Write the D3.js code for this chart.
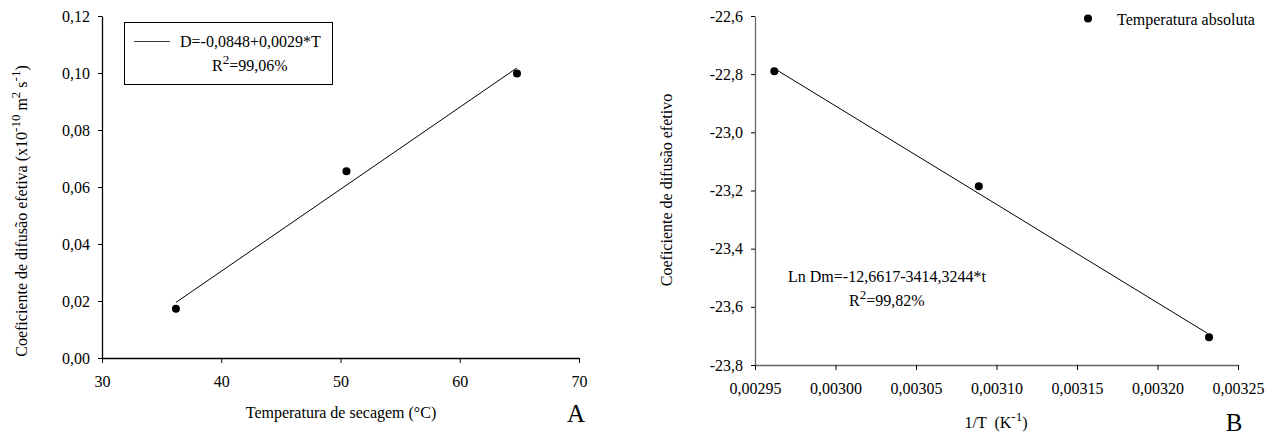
<!DOCTYPE html>
<html>
<head>
<meta charset="utf-8">
<script src="https://cdn.jsdelivr.net/npm/d3@7"></script>
<style>
  body { margin: 0; background: #fff; }
  svg text { font-family: "Liberation Serif", "Times New Roman", serif; fill: #000; }
</style>
</head>
<body>
<div id="chart"></div>
<script>
// Panel A data: drying temperature (°C) vs effective diffusion coefficient
var tempA = [36.2, 50.5, 64.8];
var difA = [0.0173, 0.0655, 0.0998];
var fitAx = [36.2, 64.8];          // ends of the fitted line
var fitAy = [0.0195, 0.1018];
var ticksAx = [30, 40, 50, 60, 70];
var ticksAy = [0.00, 0.02, 0.04, 0.06, 0.08, 0.10, 0.12];

// Panel B data: 1/T vs ln of diffusion coefficient
var invT = [0.002962, 0.003089, 0.003232];
var lnD = [-22.790, -23.185, -23.705];
var fitBx = [0.002963, 0.003231];
var fitBy = [-22.784, -23.691];
var ticksBx = [0.00295, 0.00300, 0.00305, 0.00310, 0.00315, 0.00320, 0.00325];
var ticksBy = [-23.8, -23.6, -23.4, -23.2, -23.0, -22.8, -22.6];

var width = 1272, height = 436;
var serif = '"Liberation Serif", "Times New Roman", serif';

// comma decimal and plain hyphen for minus
var pt = d3.formatLocale({decimal: ",", thousands: ".", grouping: [3], currency: ["", ""], minus: "-"});

var svg = d3.select("#chart").append("svg")
    .attr("width", width)
    .attr("height", height)
    .attr("font-family", serif);

function panel(o) {
  var x = d3.scaleLinear().domain(o.xDomain).range([o.left, o.right]);
  var y = d3.scaleLinear().domain(o.yDomain).range([o.bottom, o.top]);

  var xAxis = svg.append("g")
      .attr("transform", "translate(0," + o.bottom + ")")
      .call(d3.axisBottom(x).tickValues(o.xTicks).tickFormat(pt.format(o.xFmt))
        .tickSize(5).tickSizeOuter(0).tickPadding(13));
  var yAxis = svg.append("g")
      .attr("transform", "translate(" + o.left + ",0)")
      .call(d3.axisLeft(y).tickValues(o.yTicks).tickFormat(pt.format(o.yFmt))
        .tickSize(4).tickSizeOuter(0).tickPadding(8));

  [xAxis, yAxis].forEach(function(a) {
    a.attr("font-family", serif).attr("font-size", 16);
    a.selectAll("text").style("font-family", serif).style("font-size", "16px").attr("fill", "#000");
    a.select(".domain").attr("stroke", o.axisColor).attr("stroke-width", 1.3);
    a.selectAll(".tick line").attr("stroke", "#000");
  });

  // fitted line
  svg.append("line")
      .attr("x1", x(o.fitX[0])).attr("y1", y(o.fitY[0]))
      .attr("x2", x(o.fitX[1])).attr("y2", y(o.fitY[1]))
      .attr("stroke", "#000").attr("stroke-width", 1);

  // observed points
  svg.selectAll(null)
      .data(o.xs)
      .enter().append("circle")
      .attr("cx", function(d) { return x(d); })
      .attr("cy", function(d, i) { return y(o.ys[i]); })
      .attr("r", 4)
      .attr("fill", "#000");

  return {x: x, y: y};
}

var A = panel({
  left: 102, right: 579, top: 16, bottom: 358,
  xDomain: [30, 70], yDomain: [0, 0.12],
  xTicks: ticksAx, yTicks: ticksAy, xFmt: "d", yFmt: ".2f",
  xs: tempA, ys: difA, fitX: fitAx, fitY: fitAy, axisColor: "#000"
});

var B = panel({
  left: 755, right: 1238, top: 16, bottom: 365,
  xDomain: [0.00295, 0.00325], yDomain: [-23.8, -22.6],
  xTicks: ticksBx, yTicks: ticksBy, xFmt: ".5f", yFmt: ".1f",
  xs: invT, ys: lnD, fitX: fitBx, fitY: fitBy, axisColor: "#666"
});

// axis titles
svg.append("text")
    .attr("x", 341).attr("y", 418)
    .attr("text-anchor", "middle").style("font-size", "16px")
    .text("Temperatura de secagem (°C)");

var yt = svg.append("text")
    .attr("transform", "translate(27,211) rotate(-90)")
    .attr("text-anchor", "middle").style("font-size", "16px");
yt.append("tspan").text("Coeficiente de difusão efetiva (x10");
yt.append("tspan").attr("dy", -7).style("font-size", "13px").text("-10");
yt.append("tspan").attr("dy", 7).text(" m");
yt.append("tspan").attr("dy", -7).style("font-size", "13px").text("2");
yt.append("tspan").attr("dy", 7).text(" s");
yt.append("tspan").attr("dy", -7).style("font-size", "13px").text("-1");
yt.append("tspan").attr("dy", 7).text(")");

var xtB = svg.append("text")
    .attr("x", 996).attr("y", 428)
    .attr("text-anchor", "middle").style("font-size", "16px")
    .attr("xml:space", "preserve");
xtB.append("tspan").text("1/T  (K");
xtB.append("tspan").attr("dy", -7).style("font-size", "13px").text("-1");
xtB.append("tspan").attr("dy", 7).text(")");

svg.append("text")
    .attr("transform", "translate(672,190) rotate(-90)")
    .attr("text-anchor", "middle").style("font-size", "16px")
    .text("Coeficiente de difusão efetivo");

// panel letters
svg.append("text").attr("x", 576).attr("y", 422).attr("text-anchor", "middle")
    .style("font-size", "25px").text("A");
svg.append("text").attr("x", 1234).attr("y", 431).attr("text-anchor", "middle")
    .style("font-size", "25px").text("B");

// legend A (boxed equation)
svg.append("rect")
    .attr("x", 124.5).attr("y", 22.5).attr("width", 208).attr("height", 62)
    .attr("fill", "none").attr("stroke", "#000").attr("stroke-width", 1);
svg.append("line")
    .attr("x1", 134).attr("x2", 170).attr("y1", 41.5).attr("y2", 41.5)
    .attr("stroke", "#333").attr("stroke-width", 1);
svg.append("text").attr("x", 180).attr("y", 47).style("font-size", "16px")
    .text("D=-0,0848+0,0029*T");
var r2a = svg.append("text").attr("x", 212).attr("y", 71).style("font-size", "16px");
r2a.append("tspan").text("R");
r2a.append("tspan").attr("dy", -7).style("font-size", "13px").text("2");
r2a.append("tspan").attr("dy", 7).text("=99,06%");

// legend B
svg.append("circle").attr("cx", 1088).attr("cy", 18.5).attr("r", 4).attr("fill", "#000");
svg.append("text").attr("x", 1117).attr("y", 25).style("font-size", "16px")
    .text("Temperatura absoluta");

// equation B
svg.append("text").attr("x", 788).attr("y", 282).style("font-size", "16px")
    .text("Ln Dm=-12,6617-3414,3244*t");
var r2b = svg.append("text").attr("x", 849).attr("y", 306).style("font-size", "16px");
r2b.append("tspan").text("R");
r2b.append("tspan").attr("dy", -7).style("font-size", "13px").text("2");
r2b.append("tspan").attr("dy", 7).text("=99,82%");
</script>
</body>
</html>
